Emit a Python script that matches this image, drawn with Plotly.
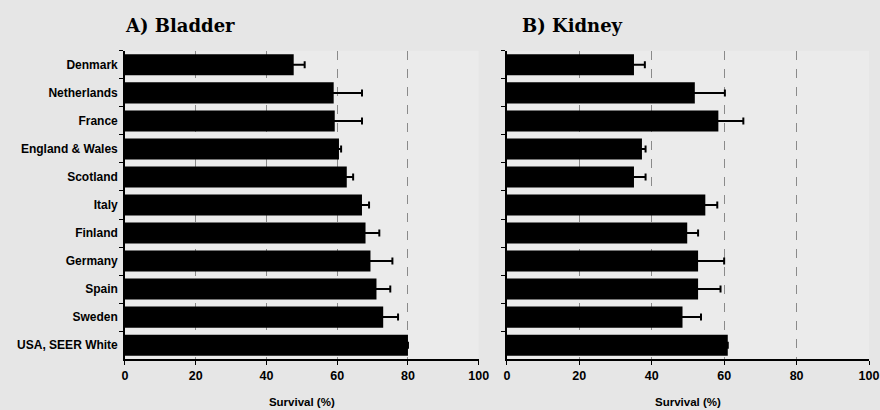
import plotly.graph_objects as go

countries = ["Denmark", "Netherlands", "France", "England & Wales", "Scotland", "Italy",
             "Finland", "Germany", "Spain", "Sweden", "USA, SEER White"]
bladder = [47.7, 59.0, 59.3, 60.5, 62.7, 67.0, 68.0, 69.4, 71.1, 73.0, 80.0]
bladder_err = [3.1, 8.0, 7.7, 0.6, 1.8, 2.0, 3.9, 6.2, 3.9, 4.2, 0.0]
kidney = [35.1, 51.9, 58.4, 37.3, 35.1, 54.8, 49.8, 52.8, 52.8, 48.5, 61.0]
kidney_err = [3.0, 8.3, 6.9, 1.0, 3.2, 3.3, 3.0, 7.2, 6.2, 5.1, 0.0]
x_ticks = [0, 20, 40, 60, 80, 100]
titles = ["A) Bladder", "B) Kidney"]

fig = go.Figure()
fig.add_trace(go.Bar(x=bladder, y=countries, orientation="h", marker=dict(color="black", line=dict(width=0)),
                     error_x=dict(type="data", array=bladder_err, color="black", thickness=2, width=3.5),
                     xaxis="x", yaxis="y", showlegend=False, width=0.75))
fig.add_trace(go.Bar(x=kidney, y=countries, orientation="h", marker=dict(color="black", line=dict(width=0)),
                     error_x=dict(type="data", array=kidney_err, color="black", thickness=2, width=3.5),
                     xaxis="x2", yaxis="y2", showlegend=False, width=0.75))

sans = "Liberation Sans"
xcommon = dict(range=[0, 100], tickvals=x_ticks, ticks="outside", ticklen=4, tickcolor="black",
               showline=True, linecolor="black", linewidth=1.5, showgrid=True, gridcolor="#8a8a8a",
               griddash="dash", gridwidth=1, zeroline=False,
               tickfont=dict(family=sans, size=12.5, color="black", weight="bold"),
               title=dict(text="Survival (%)", font=dict(family=sans, size=11.5, color="black", weight="bold"),
                          standoff=16))
ycommon = dict(categoryorder="array", categoryarray=countries, autorange="reversed", ticks="outside",
               tickson="boundaries", ticklen=4, tickcolor="black", showline=True, linecolor="black",
               linewidth=1.5, showgrid=False, ticklabelstandoff=3,
               tickfont=dict(family=sans, size=12, color="black", weight="bold"))

fig.update_layout(
    width=880, height=410,
    margin=dict(l=0, r=0, t=0, b=0, autoexpand=False),
    paper_bgcolor="#e6e6e6", plot_bgcolor="#ebebeb",
    bargap=0.25,
    xaxis=dict(domain=[0.142, 0.544], anchor="y", **xcommon),
    yaxis=dict(domain=[0.124, 0.876], anchor="x", showticklabels=True, **ycommon),
    xaxis2=dict(domain=[0.576, 0.9875], anchor="y2", **xcommon),
    yaxis2=dict(domain=[0.124, 0.876], anchor="x2", showticklabels=False, **ycommon),
    annotations=[
        dict(text="<b>" + titles[0] + "</b>", x=123 / 880, y=1 - 25 / 410, xref="paper", yref="paper",
             showarrow=False, xanchor="left", yanchor="middle",
             font=dict(family="DejaVu Serif", size=18, color="black")),
        dict(text="<b>" + titles[1] + "</b>", x=520 / 880, y=1 - 25 / 410, xref="paper", yref="paper",
             showarrow=False, xanchor="left", yanchor="middle",
             font=dict(family="DejaVu Serif", size=18, color="black")),
    ],
)

fig.write_html("out.html", config={"displayModeBar": False},
               post_script="document.body.style.margin='0';")
